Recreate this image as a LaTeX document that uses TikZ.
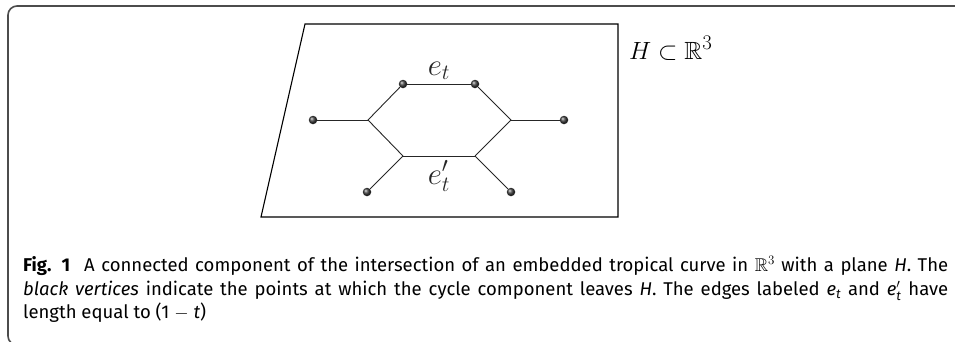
\RequirePackage{fix-cm}
\documentclass[tikz,border=0pt]{standalone}
\usepackage{amsmath,amssymb}
\usepackage{fontspec}
\newfontfamily\capfont{Fira Sans}
\usetikzlibrary{positioning}

\begin{document}
\begin{tikzpicture}[x=1pt, y=-1pt,
    dot/.style={circle, inner sep=0pt, minimum size=8.5pt, shading=ball, ball color=black!75},
    edge/.style={line width=0.9pt, black!85},
    plane/.style={line width=1.1pt},
    lbl/.style={font=\fontsize{31}{37}\selectfont, inner sep=0pt},
    frame/.style={line width=1.6pt, black!70, rounded corners=9pt},
    captext/.style={anchor=base west, inner sep=0pt, font=\capfont\fontsize{18.5}{22}\selectfont}
]
    \useasboundingbox (0,0) rectangle (955,341);
    \clip (0,0) rectangle (955,341);

    \draw[frame] (960,6) -- (8,6) -- (8,345) -- (40,345);

    \coordinate (p1) at (305,24);
    \coordinate (p2) at (618,24);
    \coordinate (p3) at (618,217);
    \coordinate (p4) at (261,217);
    \draw[plane] (p1) -- (p2) -- (p3) -- (p4) -- cycle;
    \node[inner sep=0pt, font=\Huge, anchor=base west] (hlbl) at (629,59) {$H\subset\mathbb{R}^3$};

    \node[dot] (tl) at (403,84) {};
    \node[dot] (tr) at (475,84) {};
    \node[dot] (el) at (313,120) {};
    \node[dot] (er) at (564,120) {};
    \node[dot] (dl) at (367,192) {};
    \node[dot] (dr) at (511,192) {};
    \coordinate (jl) at (368,120);
    \coordinate (jr) at (511,120);
    \coordinate (bl) at (403,156);
    \coordinate (br) at (475,156);

    \draw[edge] (tl) -- node[lbl, anchor=base, yshift=9pt]{$e_t$} (tr);
    \draw[edge] (tr) -- (jr) -- (br);
    \draw[edge] (br) -- node[lbl, anchor=base, yshift=-28pt]{$e'_t$} (bl);
    \draw[edge] (bl) -- (jl) -- (tl);
    \draw[edge] (el) -- (jl);
    \draw[edge] (jr) -- (er);
    \draw[edge] (bl) -- (dl);
    \draw[edge] (br) -- (dr);

    \node[captext] (cap1) at (23,271.7) {\makebox[925pt][s]{\textbf{Fig. 1}\hspace{14pt}A connected component of the intersection of an embedded tropical curve in $\mathbb{R}^3$ with a plane \textit{H}. The}};
    \node[captext] (cap2) at (23,295.3) {\makebox[925pt][s]{\textit{black vertices} indicate the points at which the cycle component leaves \textit{H}. The edges labeled $\textit{e}_{\textit{t}}$ and $\textit{e}'_{\textit{t}}$ have}};
    \node[captext] (cap3) at (23,318.9) {length equal to (1 $-$ \textit{t})};
\end{tikzpicture}
\end{document}
